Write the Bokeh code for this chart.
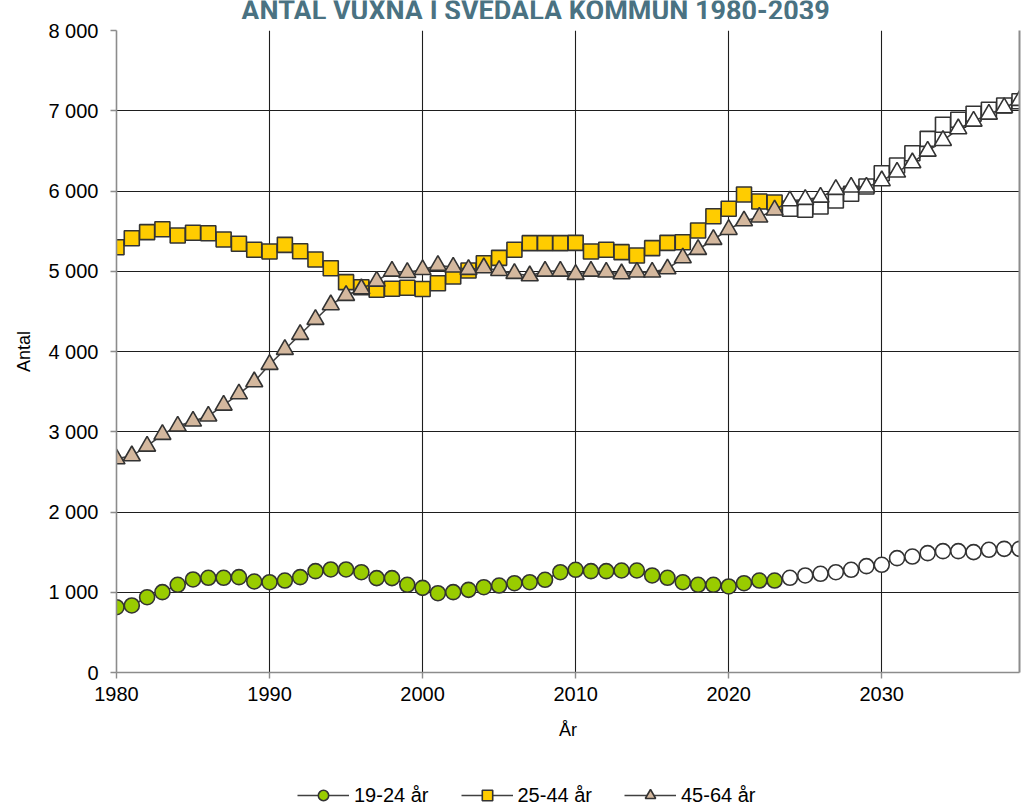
from bokeh.plotting import figure
from bokeh.layouts import column
from bokeh.models import (ColumnDataSource, Range1d, FixedTicker, LinearAxis,
                          Legend, LegendItem, Label)
from bokeh.embed import file_html
from bokeh.resources import INLINE

# ---------------- data ----------------
title_text = "ANTAL VUXNA I SVEDALA KOMMUN 1980-2039"
years = list(range(1980, 2040))
last_actual_year = 2023  # later years are forecasts (white markers)

age_19_24 = [814, 835, 938, 1001, 1093, 1159, 1180, 1180, 1188, 1134,
             1125, 1146, 1188, 1263, 1284, 1284, 1250, 1176, 1176, 1093,
             1055, 988, 1001, 1030, 1063, 1084, 1113, 1125, 1155, 1250,
             1280, 1263, 1263, 1271, 1271, 1209, 1180, 1125, 1093, 1093,
             1072, 1113, 1146, 1146, 1180, 1209, 1230, 1250, 1280, 1325,
             1342, 1425, 1445, 1487, 1512, 1512, 1500, 1529, 1541, 1541]
age_25_44 = [5300, 5412, 5487, 5524, 5445, 5479, 5474, 5396, 5342, 5267,
             5246, 5329, 5250, 5146, 5038, 4864, 4801, 4769, 4781, 4794,
             4778, 4851, 4935, 5009, 5100, 5167, 5267, 5350, 5350, 5350,
             5354, 5246, 5267, 5238, 5196, 5288, 5354, 5362, 5508, 5686,
             5778, 5956, 5869, 5857, 5778, 5766, 5807, 5882, 5965, 6056,
             6222, 6318, 6471, 6650, 6825, 6887, 6962, 7012, 7065, 7119]
age_45_64 = [2662, 2700, 2820, 2966, 3070, 3132, 3195, 3331, 3472, 3622,
             3838, 4025, 4212, 4399, 4582, 4698, 4781, 4876, 5001, 4984,
             5020, 5072, 5051, 5022, 5043, 5009, 4972, 4943, 5001, 5001,
             4960, 5001, 4989, 4968, 4989, 4989, 5030, 5167, 5271, 5396,
             5520, 5628, 5674, 5763, 5877, 5894, 5923, 6019, 6048, 6048,
             6127, 6235, 6351, 6496, 6629, 6775, 6870, 6957, 7037, 7128]

series_names = ["19-24 år", "25-44 år", "45-64 år"]
series_values = [age_19_24, age_25_44, age_45_64]
series_colors = ["#99cc00", "#ffcc00", "#d4b89e"]
series_markers = ["circle", "square", "triangle"]
series_sizes = [15, 15, 17]

x_ticks = [1980, 1990, 2000, 2010, 2020, 2030]
y_ticks = [0, 1000, 2000, 3000, 4000, 5000, 6000, 7000, 8000]
y_tick_labels = ["0", "1 000", "2 000", "3 000", "4 000", "5 000", "6 000", "7 000", "8 000"]

W = 1028
TITLE_H, MAIN_H, LEG_H = 19, 741, 51
tick_font = "Liberation Sans"
axis_color = "#8c8c8c"


def bare_figure(height, x_range, y_range):
    f = figure(width=W, height=height, output_backend="svg", toolbar_location=None,
               x_range=x_range, y_range=y_range, x_axis_location=None,
               y_axis_location=None, min_border=0, background_fill_color="white",
               border_fill_color="white")
    f.outline_line_color = None
    f.xgrid.visible = False
    f.ygrid.visible = False
    return f


# ---------------- title strip ----------------
pt = bare_figure(TITLE_H, Range1d(0, 1), Range1d(0, 1))
pt.add_layout(Label(x=419, y=9, x_units="screen", y_units="screen", text=title_text,
                    text_align="center", text_baseline="alphabetic",
                    text_font="Roboto", text_font_style="bold",
                    text_font_size="27px", text_color="#4a7282"))

# ---------------- main chart ----------------
p = figure(width=W, height=MAIN_H, output_backend="svg", toolbar_location=None,
           x_range=Range1d(1980, 2039), y_range=Range1d(0, 8000),
           min_border_left=116, min_border_right=9, min_border_top=11,
           min_border_bottom=88, background_fill_color="white",
           border_fill_color="white")
p.outline_line_color = None

p.xaxis.ticker = FixedTicker(ticks=x_ticks)
p.yaxis.ticker = FixedTicker(ticks=y_ticks)
p.yaxis.major_label_overrides = {t: l for t, l in zip(y_ticks, y_tick_labels)}
for ax in (p.xaxis[0], p.yaxis[0]):
    ax.axis_line_color = axis_color
    ax.axis_line_width = 1.6
    ax.major_tick_line_color = axis_color
    ax.major_tick_line_width = 1.4
    ax.major_tick_out = 6
    ax.major_tick_in = 0
    ax.minor_tick_line_color = None
    ax.major_label_text_font = tick_font
    ax.major_label_text_font_size = "20px"
    ax.major_label_text_color = "#000000"
    ax.axis_label_text_font = tick_font
    ax.axis_label_text_font_size = "18px"
    ax.axis_label_text_font_style = "normal"
    ax.axis_label_text_color = "#000000"
p.xaxis.axis_label = "År"
p.yaxis.axis_label = "Antal"
p.xaxis.major_label_standoff = 8
p.xaxis.axis_label_standoff = 16
p.yaxis.major_label_standoff = 12
p.yaxis.axis_label_standoff = 11

right_ax = LinearAxis(ticker=FixedTicker(ticks=[]), axis_line_color=axis_color,
                      axis_line_width=2, major_tick_line_color=None,
                      minor_tick_line_color=None)
p.add_layout(right_ax, "right")

p.xgrid.ticker = FixedTicker(ticks=x_ticks[1:])
p.ygrid.ticker = FixedTicker(ticks=y_ticks[1:])
for g in (p.xgrid[0], p.ygrid[0]):
    g.grid_line_color = "#1e1e1e"
    g.grid_line_width = 1.1

# ---------------- legend strip (same series, kept out of view) ----------------
pl = bare_figure(LEG_H, Range1d(1980, 2039), Range1d(20000, 20001))

items = []
for name, vals, col, mk, sz in zip(series_names, series_values, series_colors,
                                   series_markers, series_sizes):
    fills = [col if y <= last_actual_year else "#ffffff" for y in years]
    src = ColumnDataSource(dict(x=years, y=vals, fill=fills))
    for fig in (p, pl):
        ln = fig.line("x", "y", source=src, line_color="#404040", line_width=1.6)
        sc = fig.scatter("x", "y", source=src, marker=mk, size=sz, fill_color="fill",
                         line_color="#333333", line_width=1.6)
    items.append(LegendItem(label=name, renderers=[ln, sc], index=0))

legend = Legend(items=items, orientation="horizontal", location=(181, 3),
                glyph_width=52, glyph_height=26, label_standoff=5, spacing=32,
                padding=0, margin=0, border_line_color=None,
                background_fill_alpha=0, label_text_font=tick_font,
                label_text_font_size="20px", label_text_color="#000000")
pl.add_layout(legend, "center")

layout = column(pt, p, pl, spacing=0)
open("out.html", "w").write(file_html(layout, INLINE))
